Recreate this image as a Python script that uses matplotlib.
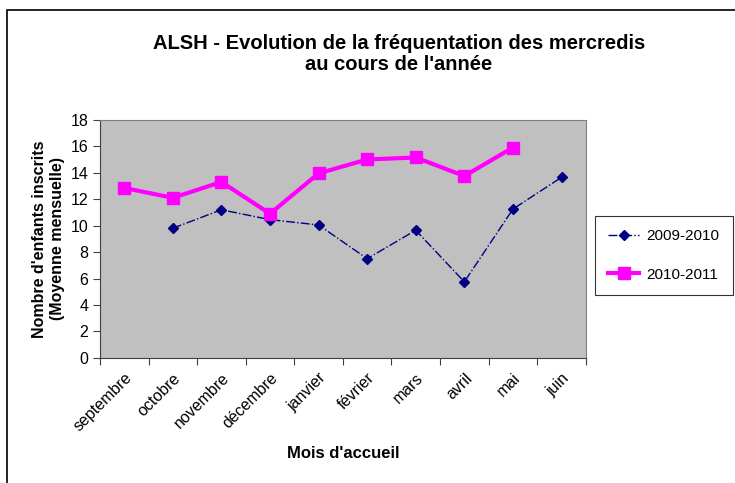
import numpy as np
import matplotlib
matplotlib.use("Agg")
import matplotlib.pyplot as plt
from matplotlib.patches import Rectangle

## Data

mois = ['septembre', 'octobre', 'novembre', 'décembre', 'janvier',
        'février', 'mars', 'avril', 'mai', 'juin']
annee_2009_2010 = [np.nan, 9.8, 11.2, 10.45, 10.05, 7.5, 9.65, 5.75, 11.25, 13.65]
annee_2010_2011 = [12.85, 12.1, 13.3, 10.9, 13.95, 15.0, 15.15, 13.75, 15.9, np.nan]
yticks = [0, 2, 4, 6, 8, 10, 12, 14, 16, 18]
grid_vals = [2, 6, 10, 14]  # only these gridlines show in the original

plt.rcParams['font.family'] = ['Liberation Sans', 'DejaVu Sans']

fig = plt.figure(figsize=(7.35, 4.83), dpi=100)
ax = fig.add_axes([0.136, 0.259, 0.661, 0.493])

x = np.arange(len(mois))
ax.plot(x, annee_2009_2010, color='#000080', linestyle='-.', linewidth=1,
        marker='D', markersize=5, label='2009-2010')
ax.plot(x, annee_2010_2011, color='#FF00FF', linestyle='-', linewidth=3,
        marker='s', markersize=9, label='2010-2011')

ax.set_facecolor('#C0C0C0')
ax.set_xlim(-0.5, len(mois) - 0.5)
ax.set_ylim(0, 18)
ax.set_yticks(yticks)
ax.set_yticklabels([str(v) for v in yticks], fontsize=11.5)
ax.set_yticks(grid_vals, minor=True)
ax.grid(which='minor', axis='y', color='black', linewidth=1)
ax.tick_params(axis='y', which='minor', length=0)

# Excel-style: ticks between categories, labels centered
ax.set_xticks(np.arange(len(mois) + 1) - 0.5)
ax.set_xticklabels([''] * (len(mois) + 1))
ax.set_xticks(x, minor=True)
ax.set_xticklabels(mois, minor=True, rotation=45, ha='right',
                   rotation_mode='anchor', fontsize=11.5)
ax.tick_params(axis='x', which='minor', length=0, pad=9)
ax.tick_params(axis='both', which='major', length=5, color='#404040')

for side in ['top', 'right']:
    ax.spines[side].set_color('gray')
for side in ['left', 'bottom']:
    ax.spines[side].set_color('#404040')

ax.set_xlabel("Mois d'accueil", fontsize=12, fontweight='bold', labelpad=8)
ax.set_ylabel("Nombre d'enfants inscrits\n(Moyenne mensuelle)", fontsize=11.5,
              fontweight='bold', labelpad=4)

fig.text(0.543, 0.888, "ALSH - Evolution de la fréquentation des mercredis\nau cours de l'année",
         ha='center', va='center', fontsize=14.5, fontweight='bold', linespacing=1.15)

leg = ax.legend(loc='center left', bbox_to_anchor=(0.809, 0.471),
                bbox_transform=fig.transFigure, frameon=True, fancybox=False,
                fontsize=11, handlelength=2.0, handletextpad=0.5,
                labelspacing=1.6, borderpad=0.9, borderaxespad=0,
                edgecolor='black')
leg.get_frame().set_linewidth(0.8)

# outer chart frame
fig.patches.append(Rectangle((0.0095, -0.1), 1.2, 1.08, transform=fig.transFigure,
                             fill=False, edgecolor='black', linewidth=1.2))

fig.savefig('out.png', dpi=100)
